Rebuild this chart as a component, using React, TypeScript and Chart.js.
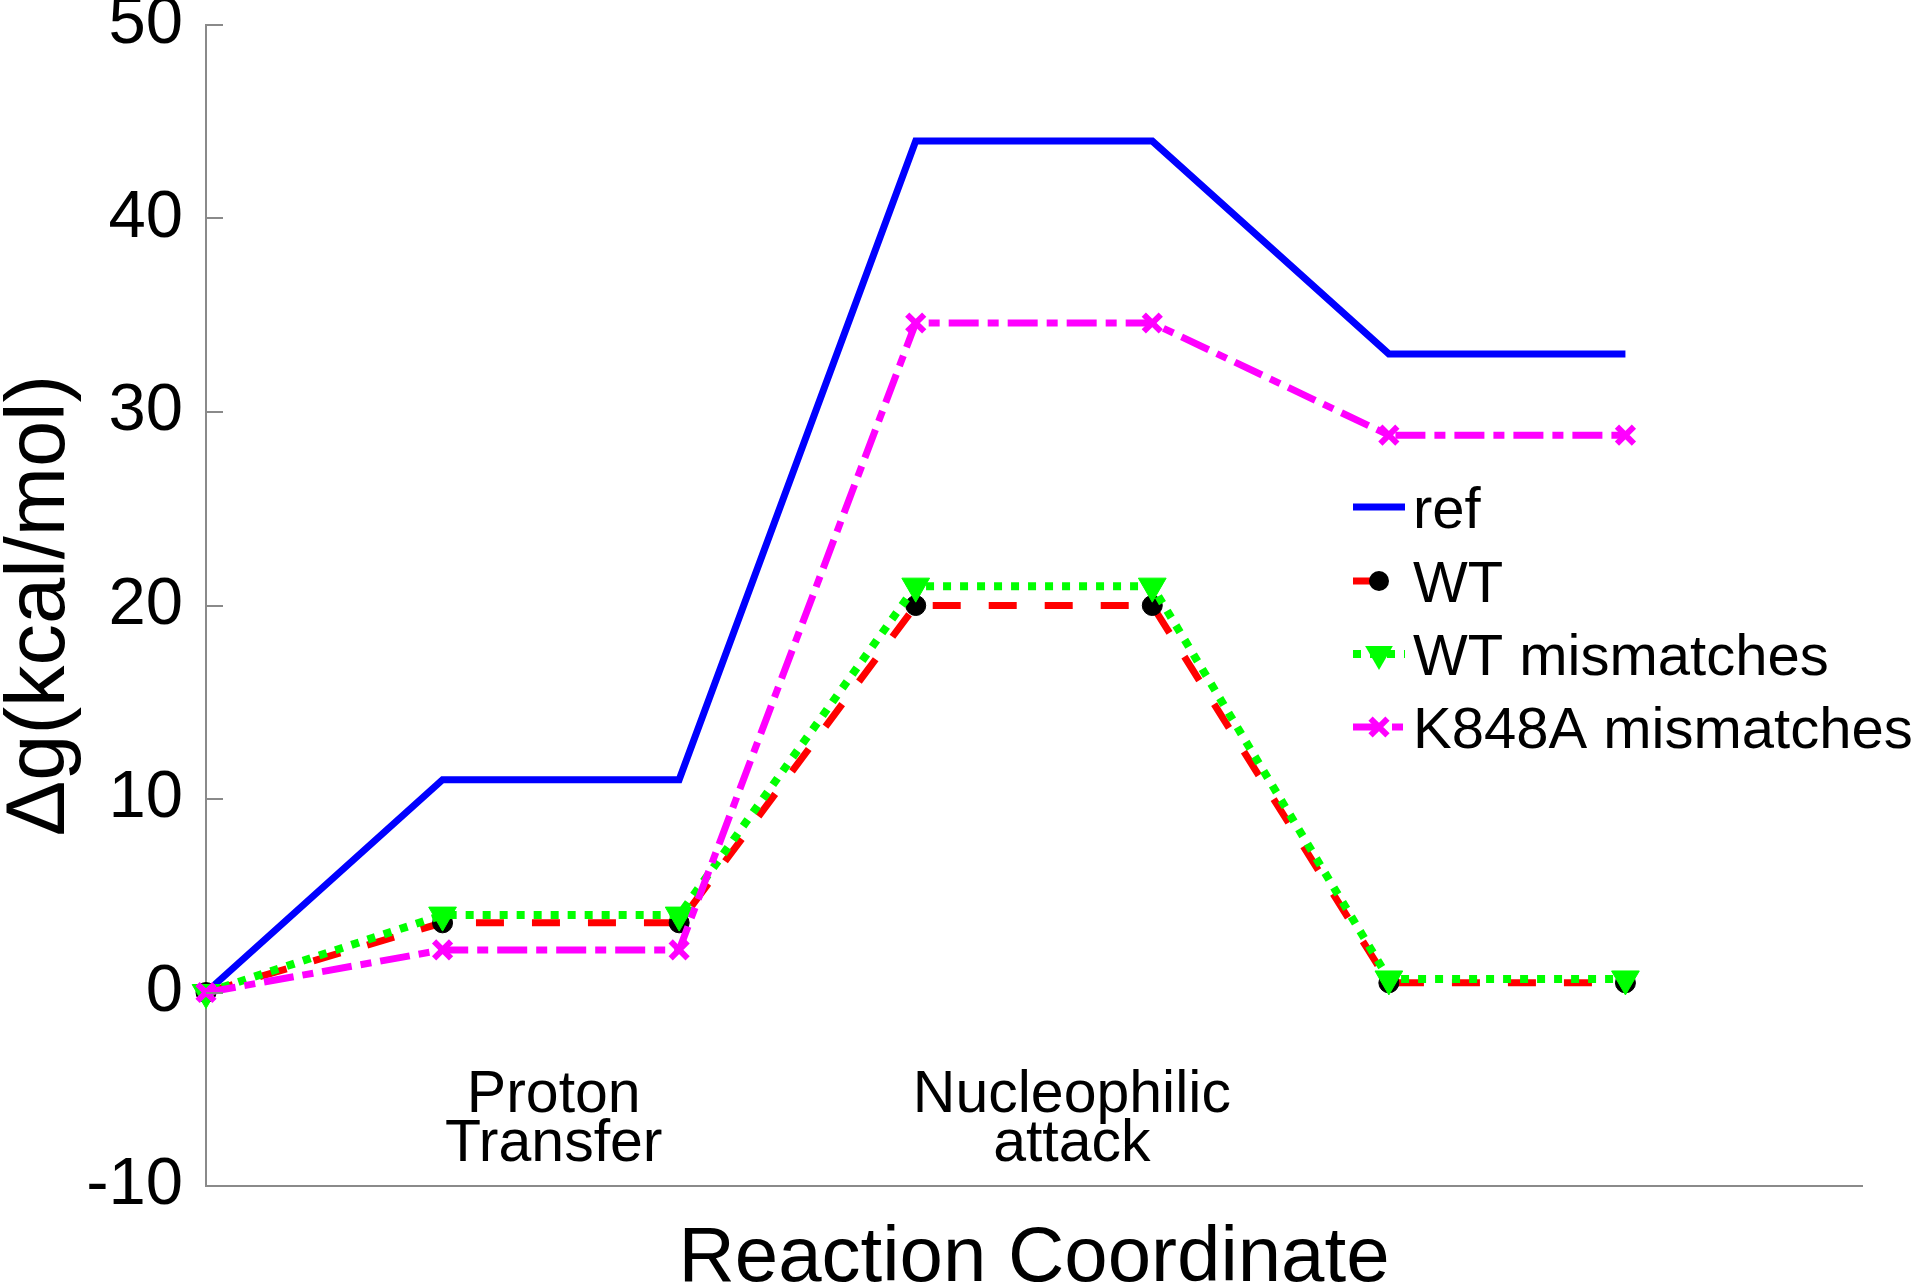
import React, { useEffect, useRef } from "react";
import { Chart, registerables } from "chart.js";

Chart.register(...registerables);

// ---- data ----
const stages = [0, 1, 2, 3, 4, 5, 6];
const refValues = [0, 11, 11, 44, 44, 33, 33];
const wtValues = [0, 3.6, 3.6, 20, 20, 0.5, 0.5];
const wtMismatchValues = [0, 4, 4, 21, 21, 0.7, 0.7];
const k848aValues = [0, 2.2, 2.2, 34.6, 34.6, 28.8, 28.8];
const seriesLabels = ["ref", "WT", "WT mismatches", "K848A mismatches"];
const yTickValues = [-10, 0, 10, 20, 30, 40, 50];
const stepNames = [["Proton", "Transfer"], ["Nucleophilic", "attack"]];
const stepAnchorsX = [1.47, 3.66];
const stepAnchorsY = [-6.2, -8.7];
const xTitle = "Reaction Coordinate";
const yTitle = "\u0394g(kcal/mol)";

const FONT = "'Liberation Sans', Arial, Helvetica, sans-serif";
const AXIS_GRAY = "#8a8a8a";

const toPoints = (vals: number[]) => stages.map((x, i) => ({ x, y: vals[i] }));

const overlayPlugin = {
  id: "overlay",
  afterDraw(chart: any) {
    const ctx = chart.ctx as CanvasRenderingContext2D;
    const xs = chart.scales.x;
    const ys = chart.scales.y;
    const area = chart.chartArea;
    ctx.save();
    // inward y ticks
    ctx.strokeStyle = AXIS_GRAY;
    ctx.lineWidth = 2;
    yTickValues.forEach((v) => {
      const py = Math.round(ys.getPixelForValue(v));
      ctx.beginPath();
      ctx.moveTo(area.left, py);
      ctx.lineTo(area.left + 17, py);
      ctx.stroke();
    });
    // step annotations
    ctx.fillStyle = "#000";
    ctx.font = `59px ${FONT}`;
    ctx.textAlign = "center";
    ctx.textBaseline = "alphabetic";
    stepNames.forEach((lines, i) => {
      const px = xs.getPixelForValue(stepAnchorsX[i]);
      lines.forEach((ln, j) => {
        ctx.fillText(ln, px, ys.getPixelForValue(stepAnchorsY[j]));
      });
    });
    // axis titles
    ctx.font = `78px ${FONT}`;
    ctx.fillText(xTitle, (area.left + area.right) / 2, 1281);
    ctx.save();
    ctx.font = `83px ${FONT}`;
    ctx.translate(64, (area.top + area.bottom) / 2);
    ctx.rotate(-Math.PI / 2);
    ctx.fillText(yTitle, 0, 0);
    ctx.restore();

    // legend
    const baselines = [528, 602, 675, 748];
    const x0 = 1353, x1 = 1405, xm = 1379, tx = 1413;
    chart.data.datasets.forEach((ds: any, i: number) => {
      const cy = baselines[i] - 21;
      ctx.save();
      ctx.strokeStyle = ds.borderColor;
      ctx.lineWidth = ds.borderWidth;
      ctx.lineCap = "butt";
      ctx.setLineDash(ds.borderDash || []);
      ctx.beginPath();
      ctx.moveTo(x0, cy);
      ctx.lineTo(x1, cy);
      ctx.stroke();
      ctx.setLineDash([]);
      if (ds.pointStyle === "circle" && ds.pointRadius > 0) {
        ctx.fillStyle = ds.pointBackgroundColor;
        ctx.beginPath();
        ctx.arc(xm, cy, ds.pointRadius, 0, Math.PI * 2);
        ctx.fill();
      } else if (ds.pointStyle === "triangle") {
        const r = ds.pointRadius;
        ctx.fillStyle = ds.pointBackgroundColor;
        ctx.beginPath();
        ctx.moveTo(xm, cy + r);
        ctx.lineTo(xm - r * 0.866, cy - r * 0.5);
        ctx.lineTo(xm + r * 0.866, cy - r * 0.5);
        ctx.closePath();
        ctx.fill();
      } else if (ds.pointStyle === "crossRot") {
        const r = ds.pointRadius * 0.707;
        ctx.strokeStyle = ds.pointBorderColor;
        ctx.lineWidth = ds.pointBorderWidth;
        ctx.beginPath();
        ctx.moveTo(xm - r, cy - r);
        ctx.lineTo(xm + r, cy + r);
        ctx.moveTo(xm + r, cy - r);
        ctx.lineTo(xm - r, cy + r);
        ctx.stroke();
      }
      ctx.restore();
      ctx.fillStyle = "#000";
      ctx.font = `58px ${FONT}`;
      ctx.textAlign = "left";
      ctx.textBaseline = "alphabetic";
      ctx.fillText(ds.label, tx, baselines[i]);
    });
    ctx.restore();
  },
};

export default function App() {
  const canvasRef = useRef<HTMLCanvasElement | null>(null);

  useEffect(() => {
    document.body.style.margin = "0";
    const canvas = canvasRef.current;
    if (!canvas) return;
    const chart = new Chart(canvas, {
      type: "line",
      data: {
        datasets: [
          {
            label: seriesLabels[0],
            data: toPoints(refValues),
            borderColor: "#0000ff",
            backgroundColor: "#0000ff",
            borderWidth: 7,
            pointRadius: 0,
            pointStyle: "circle",
            tension: 0,
            clip: false,
            order: 3,
          },
          {
            label: seriesLabels[1],
            data: toPoints(wtValues),
            borderColor: "#ff0000",
            backgroundColor: "#ff0000",
            borderWidth: 7,
            borderDash: [28, 28],
            pointStyle: "circle",
            pointRadius: 10,
            pointBackgroundColor: "#000000",
            pointBorderColor: "#000000",
            pointBorderWidth: 1,
            tension: 0,
            clip: false,
            order: 2,
          },
          {
            label: seriesLabels[2],
            data: toPoints(wtMismatchValues),
            borderColor: "#00ff00",
            backgroundColor: "#00ff00",
            borderWidth: 8,
            borderDash: [8, 9],
            pointStyle: "triangle",
            rotation: 180,
            pointRadius: 16,
            pointBackgroundColor: "#00ff00",
            pointBorderColor: "#00ff00",
            pointBorderWidth: 1,
            tension: 0,
            clip: false,
            order: 1,
          },
          {
            label: seriesLabels[3],
            data: toPoints(k848aValues),
            borderColor: "#ff00ff",
            backgroundColor: "#ff00ff",
            borderWidth: 7,
            borderDash: [30, 9, 11, 9],
            pointStyle: "crossRot",
            pointRadius: 12,
            pointBorderColor: "#ff00ff",
            pointBorderWidth: 6,
            tension: 0,
            clip: false,
            order: 0,
          },
        ] as any,
      },
      options: {
        animation: false,
        responsive: true,
        maintainAspectRatio: false,
        layout: { padding: { top: 25, right: 58, left: 0, bottom: 0 } },
        plugins: {
          legend: { display: false },
          tooltip: { enabled: false },
          title: { display: false },
        },
        scales: {
          x: {
            type: "linear",
            min: 0,
            max: 7,
            ticks: { display: false },
            grid: { display: true, drawOnChartArea: false, drawTicks: false },
            border: { display: true, color: AXIS_GRAY, width: 2 },
            afterFit: (s: any) => {
              s.height = 100;
              s.paddingLeft = 0;
              s.paddingRight = 0;
            },
          },
          y: {
            type: "linear",
            min: -10,
            max: 50,
            afterBuildTicks: (s: any) => {
              s.ticks = yTickValues.map((v) => ({ value: v }));
            },
            ticks: {
              color: "#000",
              font: { family: FONT, size: 67 },
              padding: 23,
            },
            grid: { display: true, drawOnChartArea: false, drawTicks: false },
            border: { display: true, color: AXIS_GRAY, width: 2 },
            afterFit: (s: any) => {
              s.width = 206;
              s.paddingTop = 0;
              s.paddingBottom = 0;
            },
          },
        },
      } as any,
      plugins: [overlayPlugin],
    });
    return () => chart.destroy();
  }, []);

  return (
    <div style={{ position: "relative", width: 1920, height: 1286, background: "#fff" }}>
      <canvas ref={canvasRef} />
    </div>
  );
}
